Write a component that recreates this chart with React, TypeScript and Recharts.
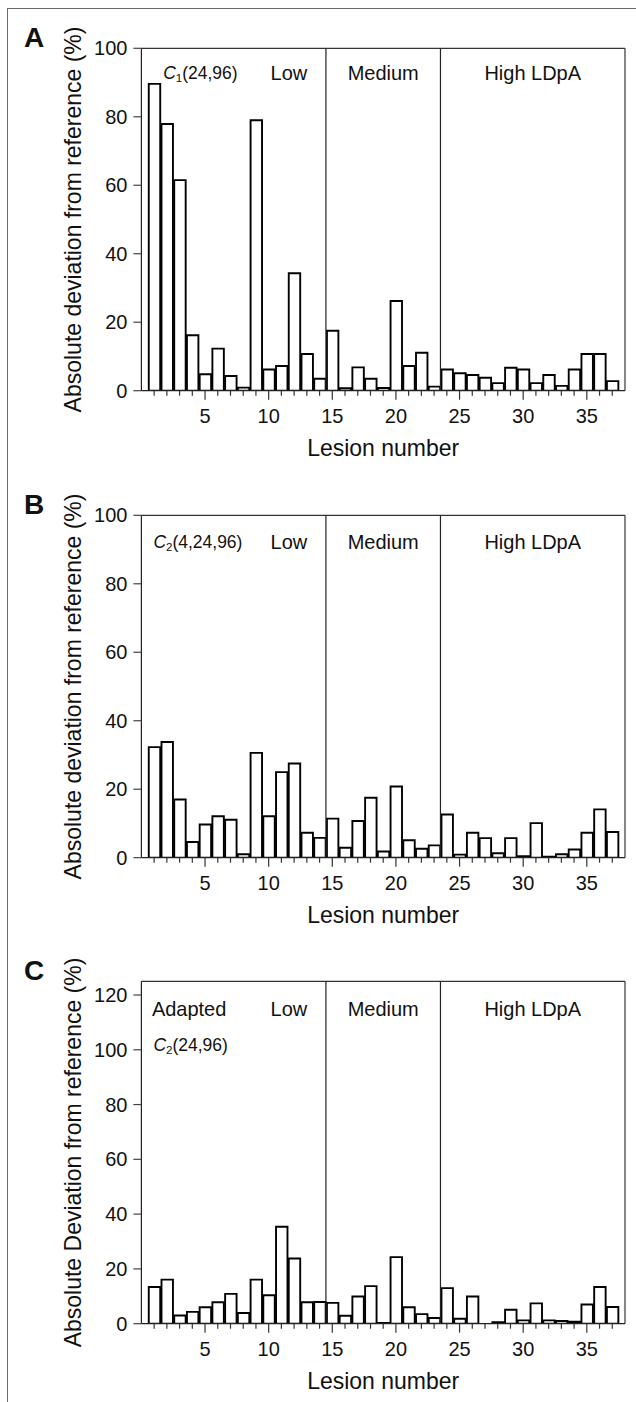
import React from 'react';
import { BarChart, Bar, XAxis, YAxis, ReferenceLine, ReferenceArea, Label } from 'recharts';

// ---------- data ----------
const lesionNumbers = [1, 2, 3, 4, 5, 6, 7, 8, 9, 10, 11, 12, 13, 14, 15, 16, 17, 18, 19, 20, 21, 22, 23, 24, 25, 26, 27, 28, 29, 30, 31, 32, 33, 34, 35, 36, 37];

const deviationA = [89.6, 77.9, 61.5, 16.2, 4.8, 12.3, 4.3, 0.9, 79.0, 6.2, 7.2, 34.3, 10.7, 3.5, 17.5, 0.7, 6.8, 3.5, 0.8, 26.2, 7.2, 11.1, 1.2, 6.2, 5.1, 4.6, 3.8, 2.2, 6.7, 6.2, 2.2, 4.6, 1.4, 6.2, 10.7, 10.7, 2.8];
const deviationB = [32.3, 33.8, 17.0, 4.6, 9.7, 12.1, 11.1, 1.0, 30.6, 12.1, 25.0, 27.5, 7.3, 5.8, 11.4, 2.9, 10.7, 17.5, 1.8, 20.8, 5.1, 2.6, 3.6, 12.6, 0.9, 7.3, 5.7, 1.3, 5.7, 0.4, 10.1, 0.3, 1.0, 2.4, 7.3, 14.1, 7.5];
const deviationC = [13.4, 16.1, 3.0, 4.3, 6.0, 7.8, 10.9, 3.9, 16.1, 10.4, 35.4, 23.8, 7.8, 7.9, 7.6, 2.9, 9.9, 13.7, 0.3, 24.3, 6.0, 3.5, 2.1, 13.0, 1.8, 9.9, 0, 0.5, 5.1, 1.2, 7.4, 1.2, 1.0, 0.7, 7.0, 13.4, 6.1];

const yTicksAB = [0, 20, 40, 60, 80, 100];
const yTicksC = [0, 20, 40, 60, 80, 100, 120];
const xDomain = [0, 38];
const groupBounds = [14.5, 23.5];
const groupLabels = ['Low', 'Medium', 'High LDpA'];

// ---------- layout ----------
const FONT = '"Liberation Sans", Arial, Helvetica, sans-serif';
const W = 636;
const PLOT_TOP = 48.3;
const PLOT_H = 342.4;
const X_AXIS_H = 76;
const Y_AXIS_W = 141.4;
const RIGHT = 11;
const CHART_H = PLOT_TOP + PLOT_H + X_AXIS_H;
const BAR_W = (W - Y_AXIS_W - RIGHT) / (xDomain[1] - xDomain[0]);
const TXT = '#111';

function XTick(props: any) {
  const { x, y, payload } = props;
  const major = payload.value % 5 === 0;
  return (
    <g>
      <line x1={x} x2={x} y1={y} y2={y + (major ? 9 : 5)} stroke="#333" strokeWidth={1.2} />
      {major ? (
        <text x={x} y={y + 25} textAnchor="middle" dominantBaseline="central" fontSize={20} fill={TXT} fontFamily={FONT}>
          {payload.value}
        </text>
      ) : null}
    </g>
  );
}

type PanelProps = {
  letter: string;
  values: number[];
  yMax: number;
  yTicks: number[];
  yLabel: string;
  top: number;
  labelDy: number;
  renderMethod: (vb: any, dy: number) => React.ReactNode;
};

function Panel({ letter, values, yMax, yTicks, yLabel, top, labelDy, renderMethod }: PanelProps) {
  const data = lesionNumbers.map((n, i) => ({ n, v: values[i] }));
  return (
    <div style={{ position: 'absolute', left: 0, top, width: W, height: CHART_H }}>
      <BarChart width={W} height={CHART_H} data={data} margin={{ top: PLOT_TOP, right: RIGHT, bottom: 0, left: 0 }} barCategoryGap={0} barGap={0}>
        <XAxis
          type="number"
          dataKey="n"
          domain={xDomain}
          ticks={lesionNumbers}
          interval={0}
          allowDataOverflow
          height={X_AXIS_H}
          tickLine={false}
          tickSize={0}
          tickMargin={0}
          tick={(p: any) => <XTick {...p} />}
          axisLine={{ stroke: '#222', strokeWidth: 1.2 }}
        >
          <Label
            content={(p: any) => {
              const vb = p.viewBox;
              return (
                <text x={vb.x + vb.width / 2} y={vb.y + 57} textAnchor="middle" dominantBaseline="central" fontSize={23} fill={TXT} fontFamily={FONT}>
                  Lesion number
                </text>
              );
            }}
          />
        </XAxis>
        <YAxis
          type="number"
          domain={[0, yMax]}
          ticks={yTicks}
          interval={0}
          allowDataOverflow
          width={Y_AXIS_W}
          tickSize={8}
          tickMargin={6}
          tick={{ fontSize: 20, fill: TXT, fontFamily: FONT }}
          axisLine={{ stroke: '#222', strokeWidth: 1.2 }}
          tickLine={{ stroke: '#444', strokeWidth: 1.2 }}
        >
          <Label
            content={(p: any) => {
              const vb = p.viewBox;
              const cy = vb.y + vb.height / 2;
              return (
                <g>
                  <text x={34} y={vb.y - 11} textAnchor="middle" dominantBaseline="central" fontSize={28} fontWeight="bold" fill={TXT} fontFamily={FONT}>
                    {letter}
                  </text>
                  <text x={73.5} y={cy} transform={`rotate(-90, 73.5, ${cy})`} textAnchor="middle" dominantBaseline="central" fontSize={23} fill={TXT} fontFamily={FONT}>
                    {yLabel}
                  </text>
                </g>
              );
            }}
          />
        </YAxis>
        <Bar dataKey="v" fill="#fff" stroke="#000" strokeWidth={1.9} barSize={BAR_W} isAnimationActive={false} />
        <ReferenceLine y={yMax} stroke="#333" strokeWidth={1.2} />
        <ReferenceLine x={xDomain[1]} stroke="#333" strokeWidth={1.2} />
        <ReferenceLine x={groupBounds[0]} stroke="#222" strokeWidth={1.2} />
        <ReferenceLine x={groupBounds[1]} stroke="#222" strokeWidth={1.2} />
        <ReferenceArea
          x1={xDomain[0]}
          x2={groupBounds[0]}
          fill="none"
          stroke="none"
          label={(p: any) => {
            const vb = p.viewBox;
            return (
              <g>
                {renderMethod(vb, labelDy)}
                <text x={vb.x + vb.width - 18.7} y={vb.y + labelDy} textAnchor="end" dominantBaseline="central" fontSize={20} fill={TXT} fontFamily={FONT}>
                  {groupLabels[0]}
                </text>
              </g>
            );
          }}
        />
        <ReferenceArea
          x1={groupBounds[0]}
          x2={groupBounds[1]}
          fill="none"
          stroke="none"
          label={(p: any) => {
            const vb = p.viewBox;
            return (
              <text x={vb.x + vb.width / 2} y={vb.y + labelDy} textAnchor="middle" dominantBaseline="central" fontSize={20} fill={TXT} fontFamily={FONT}>
                {groupLabels[1]}
              </text>
            );
          }}
        />
        <ReferenceArea
          x1={groupBounds[1]}
          x2={xDomain[1]}
          fill="none"
          stroke="none"
          label={(p: any) => {
            const vb = p.viewBox;
            return (
              <text x={vb.x + vb.width / 2} y={vb.y + labelDy} textAnchor="middle" dominantBaseline="central" fontSize={20} fill={TXT} fontFamily={FONT}>
                {groupLabels[2]}
              </text>
            );
          }}
        />
      </BarChart>
    </div>
  );
}

function methodText(x: number, y: number, sub: string, rest: string) {
  return (
    <g>
      <text x={x} y={y} dominantBaseline="central" fontSize={17.5} fill={TXT} fontFamily={FONT}>
        <tspan fontStyle="italic">C</tspan>
        <tspan fontSize={11.5} dy={5}>{sub}</tspan>
        <tspan dy={-5}>{rest}</tspan>
      </text>
    </g>
  );
}

export default function App() {
  return (
    <div style={{ position: 'absolute', left: 0, top: 0, width: W, height: 1402, background: '#fff', overflow: 'hidden', fontFamily: FONT }}>
      <div style={{ position: 'absolute', left: 7, top: 8, width: W, height: 1402, borderLeft: '1.5px solid #6a6a6a', borderTop: '1.5px solid #6a6a6a' }} />
      <Panel
        letter="A"
        values={deviationA}
        yMax={100}
        yTicks={yTicksAB}
        yLabel="Absolute deviation from reference (%)"
        top={0}
        labelDy={24.5}
        renderMethod={(vb, dy) => methodText(vb.x + 21.8, vb.y + dy, '1', '(24,96)')}
      />
      <Panel
        letter="B"
        values={deviationB}
        yMax={100}
        yTicks={yTicksAB}
        yLabel="Absolute deviation from reference (%)"
        top={466.7}
        labelDy={26.5}
        renderMethod={(vb, dy) => methodText(vb.x + 12, vb.y + dy, '2', '(4,24,96)')}
      />
      <Panel
        letter="C"
        values={deviationC}
        yMax={125}
        yTicks={yTicksC}
        yLabel="Absolute Deviation from reference (%)"
        top={933.4}
        labelDy={27.5}
        renderMethod={(vb, dy) => (
          <g>
            <text x={vb.x + 10.5} y={vb.y + dy} dominantBaseline="central" fontSize={20} fill={TXT} fontFamily={FONT}>
              Adapted
            </text>
            {methodText(vb.x + 12, vb.y + 63.3, '2', '(24,96)')}
          </g>
        )}
      />
    </div>
  );
}
